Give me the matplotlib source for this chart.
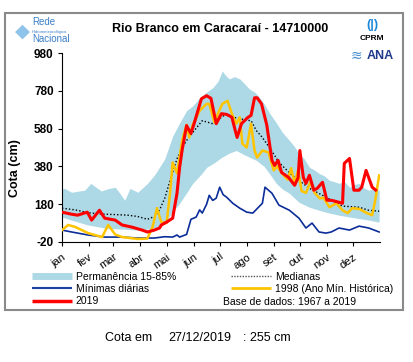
import matplotlib
matplotlib.use("Agg")
import matplotlib.pyplot as plt
from matplotlib.patches import Rectangle
from matplotlib.lines import Line2D
import numpy as np

plt.rcParams['font.family'] = ['Liberation Sans', 'DejaVu Sans']

# ---------------- data (day of year, cota in cm) ----------------
band_up_days = [0, 3, 11, 20, 26, 33, 45, 53, 61, 66, 72, 78, 87, 98, 106, 118, 127, 135, 143, 150,
                158, 165, 173, 179, 184, 188, 192, 198, 204, 210, 215, 222, 227, 232, 238, 246, 253,
                261, 266, 272, 278, 284, 290, 295, 301, 307, 312, 318, 324, 330, 336, 341, 347, 352,
                358, 364]
band_up_vals = [260, 264, 243, 250, 254, 290, 250, 262, 270, 240, 201, 264, 243, 290, 333, 420, 540, 610, 675, 700,
                743, 770, 796, 830, 885, 860, 843, 855, 843, 815, 790, 770, 743, 711, 664, 610, 560,
                517, 490, 448, 420, 375, 360, 343, 330, 306, 300, 290, 300, 270, 285, 290, 265, 254,
                262, 254]
band_lo_days = [0, 15, 30, 49, 69, 87, 101, 109, 118, 127, 135, 143, 150, 160, 166, 175, 183, 192, 200, 210,
                223, 232, 238, 246, 253, 261, 272, 284, 295, 307, 318, 330, 341, 352, 364]
band_lo_vals = [112, 90, 70, 54, 48, 43, 50, 59, 80, 140, 185, 240, 290, 340, 375, 400, 427, 450, 464, 440,
                412, 380, 343, 290, 260, 238, 190, 164, 148, 133, 122, 112, 104, 96, 85]

median_days = [0, 15, 30, 45, 61, 75, 87, 98, 106, 112, 118, 125, 132, 138, 143, 150, 161, 173, 183, 189,
               196, 204, 211, 217, 223, 230, 241, 249, 264, 284, 303, 322, 341, 352, 364]
median_vals = [159, 150, 135, 128, 125, 122, 115, 100, 115, 150, 212, 320, 420, 480, 517, 559, 622, 606, 640, 659,
               640, 633, 625, 622, 570, 533, 460, 401, 333, 264, 217, 170, 164, 148, 143]

min_days = [0, 11, 30, 49, 69, 87, 106, 118, 127, 132, 135, 143, 148, 154, 158, 161, 166, 169, 173, 177,
            181, 185, 189, 196, 204, 212, 219, 230, 233, 241, 249, 261, 272, 280, 287, 295, 303, 309,
            318, 330, 341, 352, 364]
min_vals = [43, 33, 17, 6, 6, 1, 1, 8, 6, 17, 6, 20, 100, 112, 150, 133, 180, 227, 200, 212,
            270, 230, 217, 185, 159, 138, 133, 185, 270, 238, 175, 148, 106, 54, 80, 33, 27, 33,
            54, 43, 64, 54, 33]

y2019_days = [0, 11, 18, 29, 34, 43, 49, 61, 69, 80, 92, 98, 106, 112, 114, 120, 127, 132, 135, 138,
              143, 148, 152, 160, 166, 171, 177, 183, 189, 195, 198, 201, 206, 213, 217, 221, 224,
              229, 235, 241, 244, 248, 252, 260, 267, 271, 273, 277, 280, 284, 289, 293, 299, 304,
              310, 318, 322, 324, 330, 335, 341, 344, 349, 356, 360]
y2019_vals = [138, 127, 122, 138, 96, 148, 106, 96, 70, 59, 43, 33, 43, 54, 70, 85, 106, 238, 375, 470,
              596, 554, 612, 738, 754, 740, 606, 659, 655, 640, 585, 533, 606, 638, 650, 743, 743,
              711, 600, 412, 385, 412, 348, 322, 280, 320, 464, 322, 290, 333, 254, 264, 296, 201,
              200, 190, 185, 396, 422, 254, 254, 270, 359, 270, 255]

y1998_days = [0, 7, 15, 30, 46, 53, 61, 69, 87, 98, 104, 109, 114, 120, 124, 127, 132, 138, 143, 146,
              150, 158, 166, 169, 175, 179, 184, 190, 195, 200, 204, 207, 212, 217, 221, 224, 230,
              237, 243, 247, 253, 259, 263, 267, 271, 275, 280, 285, 290, 296, 300, 307, 315, 322,
              328, 333, 341, 350, 356, 360, 364]
y1998_vals = [43, 70, 60, 27, 6, 70, 20, 6, -4, -2, 60, 159, 85, 80, 238, 401, 343, 520, 600, 533,
              600, 675, 711, 711, 612, 660, 711, 727, 659, 606, 640, 501, 480, 606, 464, 427, 464,
              454, 359, 380, 340, 310, 370, 290, 360, 250, 240, 296, 240, 210, 215, 164, 185, 148,
              133, 159, 155, 133, 122, 212, 333]

month_starts = [0, 31, 59, 90, 120, 151, 181, 212, 243, 273, 304, 334]
month_labels = ['jan', 'fev', 'mar', 'abr', 'mai', 'jun', 'jul', 'ago', 'set', 'out', 'nov', 'dez']
y_ticks = [-20, 180, 380, 580, 780, 980]

# ---------------- figure ----------------
W, H = 414, 362
fig = plt.figure(figsize=(W / 100, H / 100), dpi=100)
fig.patch.set_facecolor('white')

def fx(px):
    return px / W

def fy(py):
    return 1 - py / H

# border
fig.patches.append(Rectangle((fx(5), fy(310)), fx(403) - fx(5), fy(13) - fy(310),
                             transform=fig.transFigure, fill=False, edgecolor='#8a8a8a', lw=1.5))

ax = fig.add_axes([fx(62), fy(242), fx(380) - fx(62), fy(53) - fy(242)])

grid = np.array(sorted(set(band_up_days) | set(band_lo_days)))
up = np.interp(grid, band_up_days, band_up_vals)
lo = np.interp(grid, band_lo_days, band_lo_vals)
ax.fill_between(grid, lo, up, color='#add8e6', lw=0, zorder=1)

ax.plot(min_days, min_vals, color='#0b2d99', lw=1.2, zorder=3)
ax.plot(median_days, median_vals, color='black', lw=1.0, ls=(0, (1, 1.5)), zorder=4)
ax.plot(y1998_days, y1998_vals, color='#ffc400', lw=1.8, zorder=4)
ax.plot(y2019_days, y2019_vals, color='#ff0000', lw=2.2, zorder=5)

ax.set_xlim(0, 365)
ax.set_ylim(-20, 980)
ax.set_yticks(y_ticks)
ax.set_yticklabels([str(v) for v in y_ticks], fontsize=8.5, fontweight='bold')
ax.set_xticks(month_starts)
ax.set_xticklabels(month_labels, fontsize=8, rotation=35, ha='right', rotation_mode='anchor')
ax.tick_params(axis='both', direction='out', length=3, width=0.8, color='black')
ax.tick_params(axis='x', pad=4)
ax.tick_params(axis='y', pad=3)
for s in ['top', 'right']:
    ax.spines[s].set_visible(False)
for s in ['left', 'bottom']:
    ax.spines[s].set_linewidth(0.8)
ax.set_facecolor('white')
ax.set_ylabel('Cota (cm)', fontsize=9, fontweight='bold')
ax.yaxis.set_label_coords(-0.13, 0.39)

# legend
order = ['Permanência 15-85%', 'Mínimas diárias', '2019', 'Medianas', '1998 (Ano Mín. Histórica)']
proxy = {
    'Permanência 15-85%': Line2D([], [], color='#add8e6', lw=5, solid_capstyle='butt'),
    'Mínimas diárias': Line2D([], [], color='#1f3fa0', lw=1.5, solid_capstyle='butt'),
    '2019': Line2D([], [], color='#ff0000', lw=2.5, solid_capstyle='butt'),
    'Medianas': Line2D([], [], color='#555555', lw=1.0, ls=(0, (1, 1))),
    '1998 (Ano Mín. Histórica)': Line2D([], [], color='#ffc400', lw=2, solid_capstyle='butt'),
}
fig.legend([proxy[k] for k in order], order, ncol=2, loc='upper left',
           bbox_to_anchor=(fx(32), fy(272)), frameon=False, fontsize=7.5,
           handlelength=3.8, handletextpad=0.4, columnspacing=5.3,
           labelspacing=0.2, borderpad=0, borderaxespad=0)

fig.text(fx(223), fy(302), 'Base de dados: 1967 a 2019', fontsize=7.5, va='center', ha='left')

# title
fig.text(fx(220), fy(29), 'Rio Branco em Caracaraí - 14710000', fontsize=9,
         fontweight='bold', ha='center', va='center')

# logos as text
fig.text(fx(32), fy(22), 'Rede', fontsize=7, color='#3a7fc8', ha='left', va='center')
fig.text(fx(32), fy(32), 'Hidrometeorológica', fontsize=3, color='#3a7fc8', ha='left', va='center')
fig.text(fx(32), fy(39), 'Nacional', fontsize=7, color='#3a7fc8', ha='left', va='center')
fig.text(fx(22), fy(31), '◆', fontsize=14, color='#8ec3ea', ha='center', va='center',
         family=['DejaVu Sans'])
fig.text(fx(372), fy(25), '(|)', fontsize=9, color='#1e88d8', fontweight='bold', ha='center', va='center')
fig.text(fx(372), fy(39), 'CPRM', fontsize=6, color='black', fontweight='bold', ha='center', va='center')
fig.text(fx(380), fy(56), 'ANA', fontsize=9, color='#1f3a8a', fontweight='bold', ha='center', va='center')
fig.text(fx(356), fy(56), '≋', fontsize=10, color='#4a90d0', ha='center', va='center',
         family=['DejaVu Sans'])

# bottom caption
fig.text(fx(105), fy(338), 'Cota em', fontsize=9, ha='left', va='center')
fig.text(fx(168), fy(338), '27/12/2019', fontsize=9, ha='left', va='center')
fig.text(fx(243), fy(338), ': 255 cm', fontsize=9, ha='left', va='center')

fig.savefig('out.png', dpi=100, facecolor='white')
